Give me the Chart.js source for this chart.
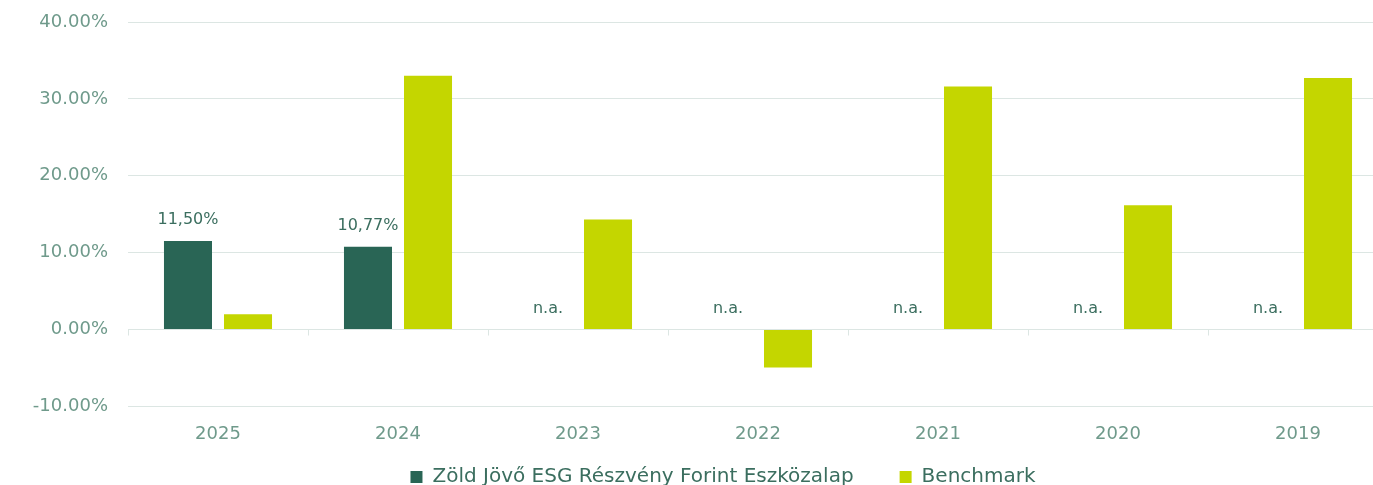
<!DOCTYPE html>
<html>
<head>
<meta charset="utf-8">
<script src="https://cdn.jsdelivr.net/npm/chart.js@4"></script>
<style>
    html, body { margin: 0; padding: 0; background: #fff; overflow: hidden; }
    #wrap { position: absolute; left: 0; top: 0; width: 1438px; height: 538px; }
</style>
</head>
<body>
<div id="wrap"><canvas id="chart"></canvas></div>
<script>
// Chart data
const years = ['2025', '2024', '2023', '2022', '2021', '2020', '2019'];
const fundReturns = [11.50, 10.77, null, null, null, null, null];
const benchmarkReturns = [2.0, 33.0, 14.3, -4.95, 31.6, 16.15, 32.7];
const seriesNames = ['Zöld Jövő ESG Részvény Forint Eszközalap', 'Benchmark'];
const yTicks = [-10, 0, 10, 20, 30, 40];

const FONT = "'DejaVu Sans', sans-serif";
const tickColor = '#6f9a8b';
const labelColor = '#3b6e5f';
const gridColor = '#dce6e3';

// Labels above the fund bars ("n.a." where there is no value)
const valueLabels = {
    id: 'valueLabels',
    afterDatasetsDraw(chart) {
        const ctx = chart.ctx;
        const meta = chart.getDatasetMeta(0);
        const y = chart.scales.y;
        ctx.save();
        ctx.font = `16px ${FONT}`;
        ctx.fillStyle = labelColor;
        ctx.textAlign = 'center';
        ctx.textBaseline = 'middle';
        meta.data.forEach((bar, i) => {
            const v = fundReturns[i];
            const text = v === null ? 'n.a.' : v.toFixed(2).replace('.', ',') + '%';
            const top = y.getPixelForValue(v === null ? 0 : v);
            ctx.fillText(text, bar.x, top - 21);
        });
        ctx.restore();
    }
};

// Small category ticks hanging below the zero line
const zeroTicks = {
    id: 'zeroTicks',
    beforeDatasetsDraw(chart) {
        const ctx = chart.ctx;
        const x = chart.scales.x;
        const y0 = chart.scales.y.getPixelForValue(0);
        const step = x.getPixelForValue(1) - x.getPixelForValue(0);
        ctx.save();
        ctx.strokeStyle = gridColor;
        ctx.lineWidth = 1;
        ctx.beginPath();
        for (let i = 0; i < years.length; i++) {
            const px = Math.round(x.getPixelForValue(i) - step / 2) + 0.5;
            ctx.moveTo(px, y0);
            ctx.lineTo(px, y0 + 6);
        }
        ctx.stroke();
        ctx.restore();
    }
};

// Pull the legend up closer to the year labels and centre it on the full width
const legendShift = {
    id: 'legendShift',
    afterLayout(chart) {
        const lg = chart.legend;
        if (!lg) return;
        lg.top -= 41;
        lg.bottom -= 41;
        lg.left += 29;
        lg.right += 29;
    }
};

new Chart(document.getElementById('chart'), {
    type: 'bar',
    data: {
        labels: years,
        datasets: [{
            label: seriesNames[0],
            data: fundReturns,
            backgroundColor: '#296555',
            categoryPercentage: 0.667,
            barPercentage: 0.8
        }, {
            label: seriesNames[1],
            data: benchmarkReturns,
            backgroundColor: '#c4d600',
            categoryPercentage: 0.667,
            barPercentage: 0.8
        }]
    },
    options: {
        responsive: true,
        maintainAspectRatio: false,
        animation: false,
        layout: { padding: { top: 22, left: 0, right: 50, bottom: 0 } },
        plugins: {
            tooltip: { enabled: false },
            legend: {
                position: 'bottom',
                labels: {
                    color: labelColor,
                    boxWidth: 12,
                    boxHeight: 12,
                    padding: 46,
                    font: { size: 20, family: FONT }
                }
            }
        },
        scales: {
            x: {
                grid: { display: false, drawTicks: false },
                border: { display: false },
                ticks: {
                    color: tickColor,
                    padding: 17,
                    font: { size: 18, family: FONT }
                }
            },
            y: {
                min: yTicks[0],
                max: yTicks[yTicks.length - 1],
                afterBuildTicks(scale) {
                    scale.ticks = yTicks.map(v => ({ value: v }));
                },
                afterFit(scale) {
                    scale.width = 128;
                    scale.paddingTop = 0;
                    scale.paddingBottom = 0;
                },
                grid: { color: gridColor, drawTicks: false },
                border: { display: false },
                ticks: {
                    color: tickColor,
                    padding: 20,
                    font: { size: 18, family: FONT },
                    callback: v => v.toFixed(2) + '%'
                }
            }
        }
    },
    plugins: [zeroTicks, valueLabels, legendShift]
});
</script>
</body>
</html>
